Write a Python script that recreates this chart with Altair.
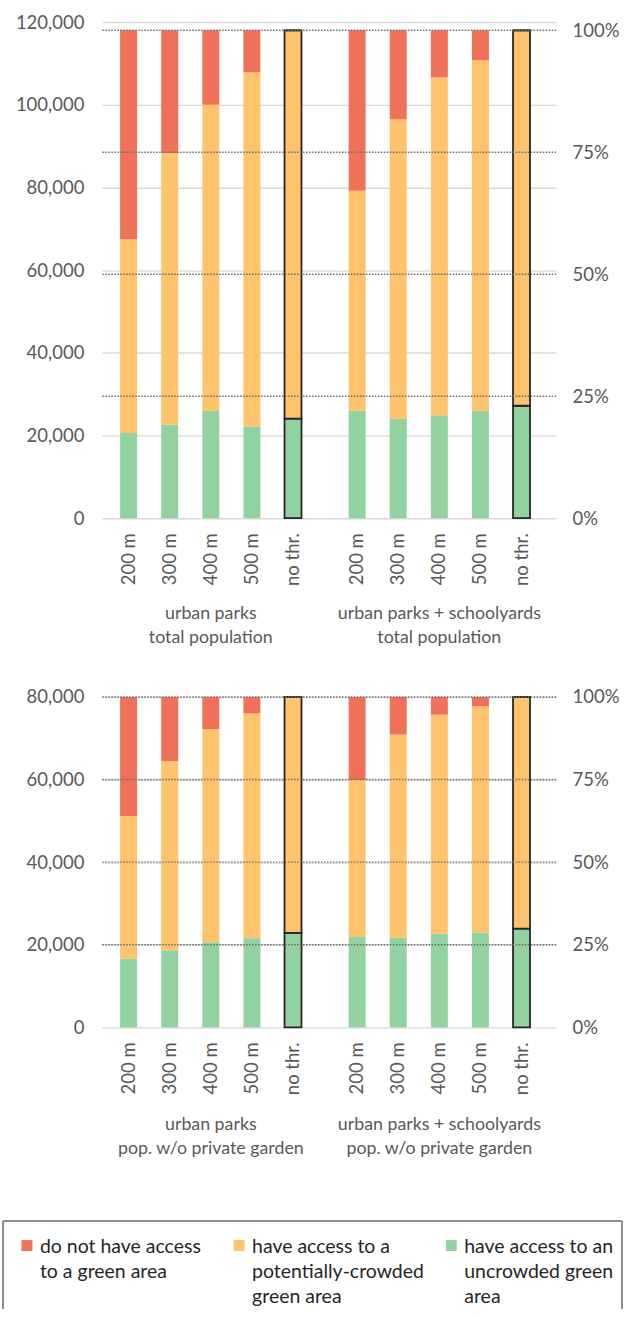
import altair as alt
import pandas as pd

# ---------------- data ----------------
DISTANCES = ["200 m", "300 m", "400 m", "500 m", "no thr."]
SERIES = [
    "do not have access to a green area",
    "have access to a potentially-crowded green area",
    "have access to an uncrowded green area",
]
LEGEND_LINES = [
    ["do not have access", "to a green area"],
    ["have access to a", "potentially-crowded", "green area"],
    ["have access to an", "uncrowded green", "area"],
]
COLORS = ["#ef7159", "#fec36c", "#92d2a0"]

TOP_GROUPS = [["urban parks", "total population"],
              ["urban parks + schoolyards", "total population"]]
BOT_GROUPS = [["urban parks", "pop. w/o private garden"],
              ["urban parks + schoolyards", "pop. w/o private garden"]]

TOP_TOTAL = 118000
TOP_NO_ACCESS = [[50500, 29700, 18000, 10200, 0], [38800, 21500, 11400, 7200, 0]]
TOP_CROWDED = [[46900, 65700, 74100, 85600, 93900], [53200, 72500, 81700, 84900, 90800]]
TOP_UNCROWDED = [[20600, 22600, 25900, 22200, 24100], [26000, 24000, 24900, 25900, 27200]]

BOT_TOTAL = 80000
BOT_NO_ACCESS = [[28800, 15500, 7800, 4000, 0], [20100, 9100, 4300, 2300, 0]]
BOT_CROWDED = [[34500, 45800, 51600, 54400, 57100], [38000, 49200, 53000, 54700, 56100]]
BOT_UNCROWDED = [[16700, 18700, 20600, 21600, 22900], [21900, 21700, 22700, 23000, 23900]]

TOP_TICKS = [0, 20000, 40000, 60000, 80000, 100000, 120000]
BOT_TICKS = [0, 20000, 40000, 60000, 80000]
PCT_TICKS = [0, 0.25, 0.5, 0.75, 1.0]

# ---------------- style ----------------
GROUP_SHIFT = 5.56
FONT = "Lato"
GREY = "#595959"
W = 455
X_DOMAIN = [-0.53, 10.28]
X_ENC = alt.X("pos:Q", scale=alt.Scale(domain=X_DOMAIN, nice=False, zero=False), axis=None)


def panel(no_access, crowded, uncrowded, groups, total, ticks, height, grp_offset):
    rows, lab_rows, grp_rows = [], [], []
    for g in range(2):
        gpos = []
        for i, d in enumerate(DISTANCES):
            pos = i + g * GROUP_SHIFT
            gpos.append(pos)
            lab_rows.append({"pos": pos, "dist": d})
            for k, vals in enumerate([uncrowded, crowded, no_access]):
                rows.append({
                    "pos": pos, "dist": d, "series": SERIES[2 - k], "stack": k,
                    "value": vals[g][i], "outlined": d == "no thr.",
                })
        grp_rows.append({"pos": sum(gpos) / len(gpos), "label": "\n".join(groups[g])})
    df = pd.DataFrame(rows)
    lab_df = pd.DataFrame(lab_rows)
    grp_df = pd.DataFrame(grp_rows)
    pct_df = pd.DataFrame({"p": PCT_TICKS[1:]})

    bars = alt.Chart(df).mark_bar(size=17).encode(
        x=X_ENC,
        y=alt.Y("value:Q", stack="zero",
                scale=alt.Scale(domain=[0, ticks[-1]], nice=False),
                axis=alt.Axis(values=ticks, format=",d", title=None, domain=False,
                              ticks=False, labelFontSize=18.5, labelColor=GREY,
                              labelFont=FONT, labelPadding=18, grid=True,
                              gridColor="#d9d9d9", gridWidth=1.4)),
        color=alt.Color("series:N", scale=alt.Scale(domain=SERIES, range=COLORS), legend=None),
        order=alt.Order("stack:Q"),
        stroke=alt.value("#262626"),
        strokeWidth=alt.condition("datum.outlined", alt.value(1.8), alt.value(0)),
    )
    rules = alt.Chart(pct_df).mark_rule(color="#6e6e6e", strokeDash=[1.5, 1.5],
                                         strokeWidth=1.4).encode(
        y=alt.Y("p:Q", scale=alt.Scale(domain=[0, ticks[-1] / total], nice=False),
                axis=alt.Axis(orient="right", values=PCT_TICKS, format=".0%", title=None,
                              domain=False, ticks=False, grid=False, labelFontSize=18.5,
                              labelColor=GREY, labelFont=FONT, labelPadding=16)),
    )
    ticklab = alt.Chart(lab_df).mark_text(
        angle=270, align="right", baseline="middle", fontSize=18.5, font=FONT, color=GREY
    ).encode(x=X_ENC, y=alt.value(height + 15), text="dist:N")
    grp = alt.Chart(grp_df).mark_text(
        align="center", baseline="top", lineBreak="\n", lineHeight=23.5,
        fontSize=17.8, font=FONT, color=GREY
    ).encode(x=X_ENC, y=alt.value(height + grp_offset), text="label:N")
    return alt.layer(bars, rules, ticklab, grp).resolve_scale(y="independent").properties(
        width=W, height=height)


top = panel(TOP_NO_ACCESS, TOP_CROWDED, TOP_UNCROWDED, TOP_GROUPS, TOP_TOTAL, TOP_TICKS, 497, 87)
bottom = panel(BOT_NO_ACCESS, BOT_CROWDED, BOT_UNCROWDED, BOT_GROUPS, BOT_TOTAL, BOT_TICKS, 331, 89)

# ---------------- legend ----------------
LEG_H = 103
leg_df = pd.DataFrame([{"col": k, "series": SERIES[k], "label": "\n".join(lines)}
                       for k, lines in enumerate(LEGEND_LINES)])
lx = alt.X("col:Q", scale=alt.Scale(domain=[0, 2], range=[-62, 363]), axis=None)
leg_text = alt.Chart(leg_df).mark_text(
    align="left", baseline="alphabetic", lineBreak="\n", lineHeight=25.5,
    fontSize=19.5, font=FONT, color="#262626"
).encode(x=lx, y=alt.value(46.5), text="label:N")
leg_sq = alt.Chart(leg_df).mark_square(size=120, opacity=1, xOffset=-13).encode(
    x=lx, y=alt.value(39.5),
    color=alt.Color("series:N", scale=alt.Scale(domain=SERIES, range=COLORS), legend=None))
box_style = dict(color="#8c8c8c", strokeWidth=1.5)
box_top = alt.Chart(leg_df).mark_rule(**box_style).encode(
    x=alt.value(-99), x2=alt.value(521), y=alt.value(15))
box_left = alt.Chart(leg_df).mark_rule(**box_style).encode(
    x=alt.value(-99), y=alt.value(15), y2=alt.value(LEG_H))
box_right = alt.Chart(leg_df).mark_rule(**box_style).encode(
    x=alt.value(521), y=alt.value(15), y2=alt.value(LEG_H))
legend = alt.layer(box_top, box_left, box_right, leg_sq, leg_text).properties(
    width=W, height=LEG_H)

chart = alt.vconcat(top, bottom, legend, spacing=179, bounds="flush").properties(
    padding={"left": 2, "top": 12, "right": 2, "bottom": 0},
    background="white",
).configure_view(strokeWidth=0, stroke="transparent")

chart.save("out.html", embed_options={"renderer": "svg", "actions": False})
